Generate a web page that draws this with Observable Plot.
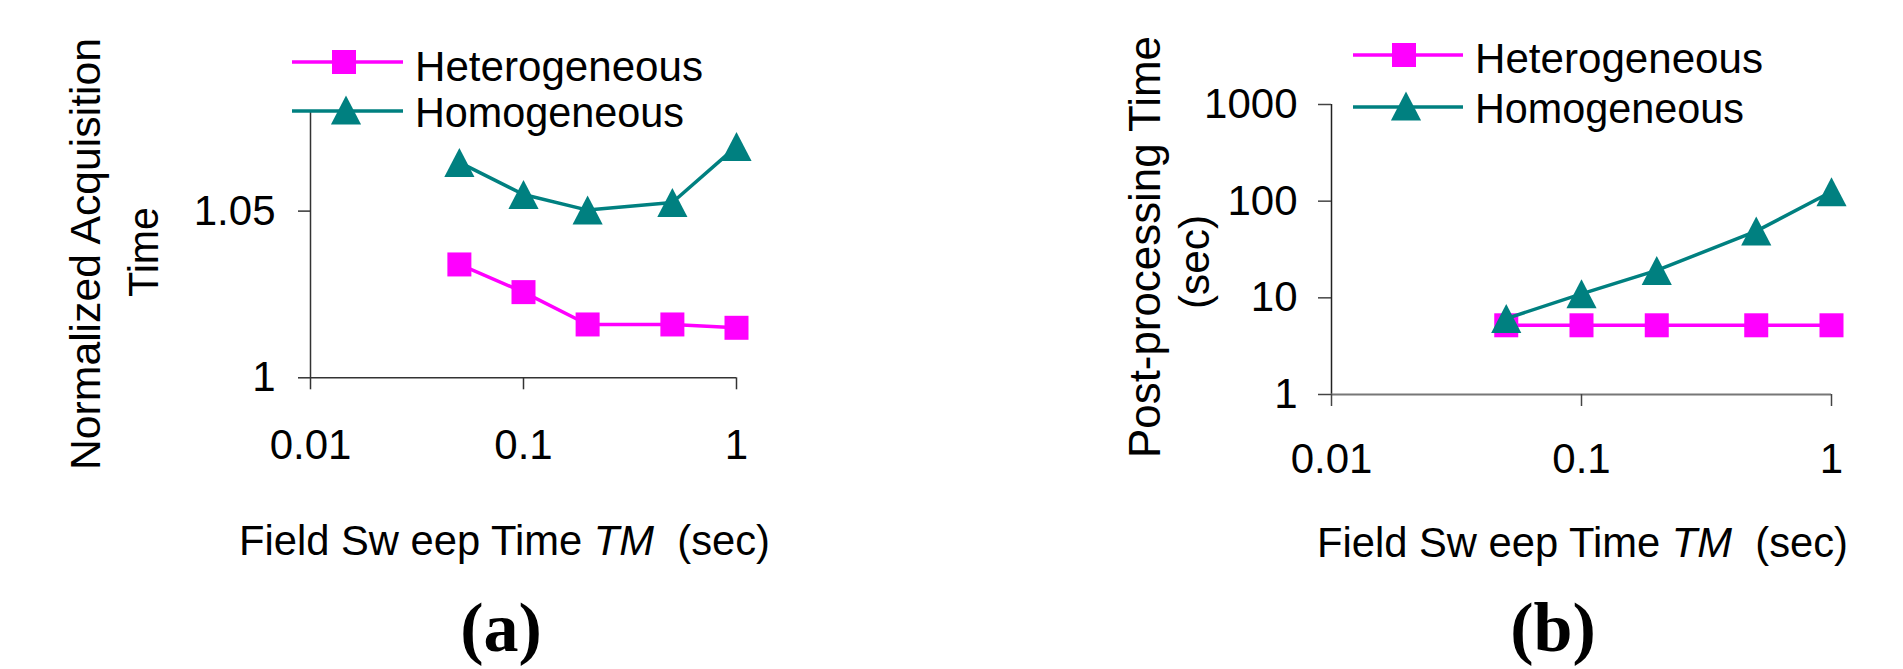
<!DOCTYPE html>
<html><head><meta charset="utf-8">
<script src="https://cdn.jsdelivr.net/npm/d3@7"></script>
<script src="https://cdn.jsdelivr.net/npm/@observablehq/plot@0.6"></script>
<style>
html,body{margin:0;padding:0;background:#fff;}
#wrap{position:relative;width:1903px;height:669px;overflow:hidden;background:#fff;}
#wrap > svg{position:absolute;top:0;overflow:visible;}
</style></head><body><div id="wrap"></div>
<script>
// ---- data ----
const sweepTimes = [0.05, 0.1, 0.2, 0.5, 1];
const xTicks = [0.01, 0.1, 1];
const seriesNames = ["Heterogeneous", "Homogeneous"];
const seriesColors = ["#ff00ff", "#008080"];
// (a) Normalized acquisition time
const acqHeterogeneous = [1.034, 1.0257, 1.016, 1.016, 1.015];
const acqHomogeneous = [1.0646, 1.055, 1.0503, 1.0526, 1.0694];
const acqTicks = [1, 1.05];
const acqDomain = [1, 1.08];
// (b) Post-processing time (sec)
const postHeterogeneous = [5.2, 5.2, 5.2, 5.2, 5.2];
const postHomogeneous = [6.1, 11.0, 19.2, 49, 125];
const postTicks = [1, 10, 100, 1000];
const postDomain = [1, 1000];
// text
const yTitleA = ["Normalized Acquisition", "Time"];
const yTitleB = ["Post-processing Time", "(sec)"];
const xTitleParts = ["Field Sw eep Time ", "TM", "  (sec)"];
const panelLabels = ["(a)", "(b)"];

const FONT = '"Liberation Sans", Arial, sans-serif';
const rows = (vals) => sweepTimes.map((t, i) => ({t, v: vals[i]}));

// marker shapes (Excel-like)
const squareSym = {draw(ctx, size) { const s = Math.sqrt(size); ctx.rect(-s / 2, -s / 2, s, s); }};
const triSym = {draw(ctx, size) { const s = Math.sqrt(size); ctx.moveTo(0, -s / 2); ctx.lineTo(s * 0.52, s / 2); ctx.lineTo(-s * 0.52, s / 2); ctx.closePath(); }};
const rSq = 24 / Math.sqrt(Math.PI);
const rTri = 29 / Math.sqrt(Math.PI);

function seriesMarks(het, hom) {
  return [
    Plot.line(rows(het), {x: "t", y: "v", stroke: seriesColors[0], strokeWidth: 3.5}),
    Plot.dot(rows(het), {x: "t", y: "v", symbol: squareSym, r: rSq, fill: seriesColors[0], stroke: "none"}),
    Plot.line(rows(hom), {x: "t", y: "v", stroke: seriesColors[1], strokeWidth: 3.5}),
    Plot.dot(rows(hom), {x: "t", y: "v", symbol: triSym, r: rTri, fill: seriesColors[1], stroke: "none"})
  ];
}

const styleCommon = {background: "transparent", fontFamily: FONT, fontSize: "42px", color: "#000", overflow: "visible"};

const plotA = Plot.plot({
  width: 950, height: 669,
  marginLeft: 310, marginRight: 214, marginTop: 110.6, marginBottom: 291.7,
  style: styleCommon,
  x: {type: "log", domain: [0.01, 1]},
  y: {type: "linear", domain: acqDomain},
  marks: [
    Plot.ruleX([0.01], {y1: acqDomain[0], y2: acqDomain[1], stroke: "#333", strokeWidth: 1.5}),
    Plot.ruleY([acqDomain[0]], {x1: 0.01, x2: 1, stroke: "#333", strokeWidth: 1.5}),
    Plot.axisX(xTicks, {tickSize: 12, tickPadding: 39, tickFormat: d => String(d), stroke: "#333", strokeWidth: 1.5, label: null}),
    Plot.axisY(acqTicks, {tickSize: 12, tickPadding: 23, tickFormat: d => String(d), stroke: "#333", strokeWidth: 1.5, label: null}),
    ...seriesMarks(acqHeterogeneous, acqHomogeneous)
  ]
});
plotA.style.left = "0px";

const plotB = Plot.plot({
  width: 953, height: 669,
  marginLeft: 381, marginRight: 72, marginTop: 104, marginBottom: 275,
  style: styleCommon,
  x: {type: "log", domain: [0.01, 1]},
  y: {type: "log", domain: postDomain},
  marks: [
    Plot.ruleX([0.01], {y1: postDomain[0], y2: postDomain[1], stroke: "#222", strokeWidth: 1.5}),
    Plot.ruleY([postDomain[0]], {x1: 0.01, x2: 1, stroke: "#777", strokeWidth: 2}),
    Plot.axisX(xTicks, {tickSize: 12, tickPadding: 37, tickFormat: d => String(d), stroke: "#444", strokeWidth: 1.5, label: null}),
    Plot.axisY(postTicks, {tickSize: 13, tickPadding: 21, tickFormat: d => String(d), stroke: "#444", strokeWidth: 1.5, label: null}),
    ...seriesMarks(postHeterogeneous, postHomogeneous)
  ]
});
plotB.style.left = "950px";

const wrap = document.getElementById("wrap");
wrap.appendChild(plotA);
wrap.appendChild(plotB);

// ---- overlay: titles, legends, panel labels ----
const ov = d3.select(wrap).append("svg")
  .attr("width", 1903).attr("height", 669)
  .style("left", "0px").style("font-family", FONT);

function vtext(x, yc, str, size, len) {
  ov.append("text").attr("transform", `translate(${x},${yc}) rotate(-90)`)
    .attr("text-anchor", "middle").attr("font-size", size)
    .attr("textLength", len).attr("lengthAdjust", "spacingAndGlyphs").text(str);
}
// y titles
vtext(100, 254, yTitleA[0], 43, 432);
vtext(158, 252, yTitleA[1], 43, 90);
vtext(1160, 247, yTitleB[0], 44, 422);
vtext(1209, 262, yTitleB[1], 43, 94);

// x titles
function xtitle(x, y) {
  const t = ov.append("text").attr("x", x).attr("y", y).attr("font-size", 42)
    .attr("textLength", 531).attr("lengthAdjust", "spacingAndGlyphs").attr("xml:space", "preserve");
  t.append("tspan").text(xTitleParts[0]);
  t.append("tspan").attr("font-style", "italic").text(xTitleParts[1]);
  t.append("tspan").text(xTitleParts[2]);
}
xtitle(239, 555);
xtitle(1317, 557);

// legends
function legend(x0, x1, xm, xt, yH, yO, base1, base2) {
  const sq = d3.path(); squareSym.draw(sq, 24 * 24);
  const tr = d3.path(); triSym.draw(tr, 29 * 29);
  ov.append("line").attr("x1", x0).attr("x2", x1).attr("y1", yH).attr("y2", yH).attr("stroke", seriesColors[0]).attr("stroke-width", 3.5);
  ov.append("path").attr("d", sq.toString()).attr("transform", `translate(${xm},${yH})`).attr("fill", seriesColors[0]);
  ov.append("line").attr("x1", x0).attr("x2", x1).attr("y1", yO).attr("y2", yO).attr("stroke", seriesColors[1]).attr("stroke-width", 3.5);
  ov.append("path").attr("d", tr.toString()).attr("transform", `translate(${xm + 2},${yO - 1})`).attr("fill", seriesColors[1]);
  ov.append("text").attr("x", xt).attr("y", base1).attr("font-size", 43).attr("textLength", 288).attr("lengthAdjust", "spacingAndGlyphs").text(seriesNames[0]);
  ov.append("text").attr("x", xt).attr("y", base2).attr("font-size", 43).attr("textLength", 269).attr("lengthAdjust", "spacingAndGlyphs").text(seriesNames[1]);
}
legend(292, 403, 344, 415, 62, 111, 81, 127);
legend(1353, 1463, 1404, 1475, 55, 107, 73, 123);

// panel labels
ov.append("text").attr("x", 501).attr("y", 651).attr("text-anchor", "middle")
  .attr("font-family", '"Liberation Serif", "Times New Roman", serif').attr("font-weight", "bold").attr("font-size", 70).text(panelLabels[0]);
ov.append("text").attr("x", 1553).attr("y", 651).attr("text-anchor", "middle")
  .attr("font-family", '"Liberation Serif", "Times New Roman", serif').attr("font-weight", "bold").attr("font-size", 70).text(panelLabels[1]);
</script></body></html>
